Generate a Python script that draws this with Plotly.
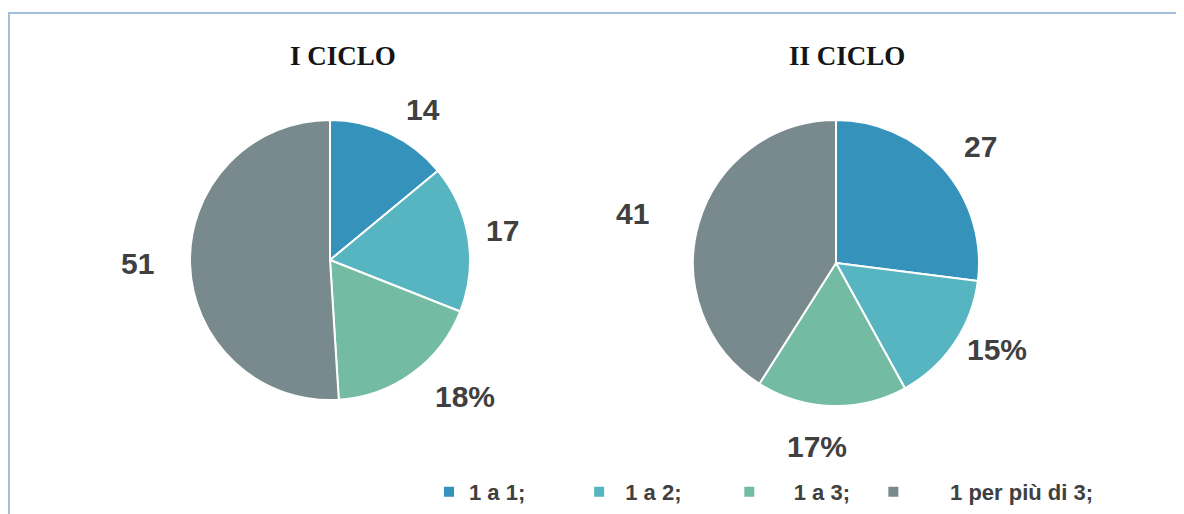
import plotly.graph_objects as go

# ---- data ----
categories = ["1 a 1;", "1 a 2;", "1 a 3;", "1 per più di 3;"]
ciclo1_values = [14, 17, 18, 51]
ciclo2_values = [27, 15, 17, 41]
titles = ["I CICLO", "II CICLO"]

# ---- style ----
OFF = 8                       # page body margin
W, H = 1184 - OFF, 514 - OFF  # figure size
colors = ["#3592ba", "#56b5c1", "#74bba4", "#788a8d"]
NB = "\u00a0"
legend_lead = [0, 1, 4, 6]
legend_trail = [8, 7, 3, 0]
# pie centres / radii in screen pixels
pie_geom = [(330, 260, 140), (836, 263, 143)]
title_xy = [(343, 56), (847, 56)]
# label positions in screen pixels and whether the "%" is clipped off
label_xy = [
    [(423, 110), (502, 230), (465, 396), (137, 264)],
    [(980, 147), (997, 349), (817, 446), (632, 213)],
]
label_clipped = [
    [True, True, False, True],
    [True, False, False, True],
]


def px(x):
    return (x - OFF) / W


def py(y):
    return 1 - (y - OFF) / H


fig = go.Figure()
names = [NB * a + c + NB * b for a, c, b in zip(legend_lead, categories, legend_trail)]
for i, vals in enumerate([ciclo1_values, ciclo2_values]):
    cx, cy, r = pie_geom[i]
    fig.add_trace(go.Pie(
        labels=names,
        values=vals,
        sort=False,
        direction="clockwise",
        rotation=0,
        textinfo="none",
        hoverinfo="label+percent",
        marker=dict(colors=colors, line=dict(color="white", width=2)),
        domain=dict(x=[px(cx - r), px(cx + r)], y=[py(cy + r), py(cy - r)]),
        showlegend=(i == 0),
    ))

annotations = []
for i, vals in enumerate([ciclo1_values, ciclo2_values]):
    tx, ty = title_xy[i]
    annotations.append(dict(
        text=titles[i], x=px(tx), y=py(ty), xref="paper", yref="paper",
        showarrow=False, xanchor="center", yanchor="middle",
        font=dict(family="Liberation Serif", size=27, color="#151515", weight="bold"),
    ))
    for j, v in enumerate(vals):
        lx, ly = label_xy[i][j]
        txt = f"{v}" if label_clipped[i][j] else f"{v}%"
        annotations.append(dict(
            text=txt, x=px(lx), y=py(ly), xref="paper", yref="paper",
            showarrow=False, xanchor="center", yanchor="middle",
            font=dict(family="Liberation Sans", size=30, color="#404040", weight="bold"),
        ))

fig.update_layout(
    width=W, height=H,
    margin=dict(l=0, r=0, t=0, b=0),
    paper_bgcolor="white",
    plot_bgcolor="white",
    annotations=annotations,
    shapes=[dict(type="rect", xref="paper", yref="paper",
                 x0=px(9), x1=px(1184 + 10), y0=py(514 + 10), y1=py(13),
                 line=dict(color="#a3bfdc", width=2))],
    legend=dict(
        orientation="h",
        x=px(429), xanchor="left",
        y=py(492), yanchor="middle",
        font=dict(family="Liberation Sans", size=22, color="#404040", weight="bold"),
        traceorder="normal",
        bgcolor="rgba(0,0,0,0)",
    ),
)

fig.write_html("out.html")
